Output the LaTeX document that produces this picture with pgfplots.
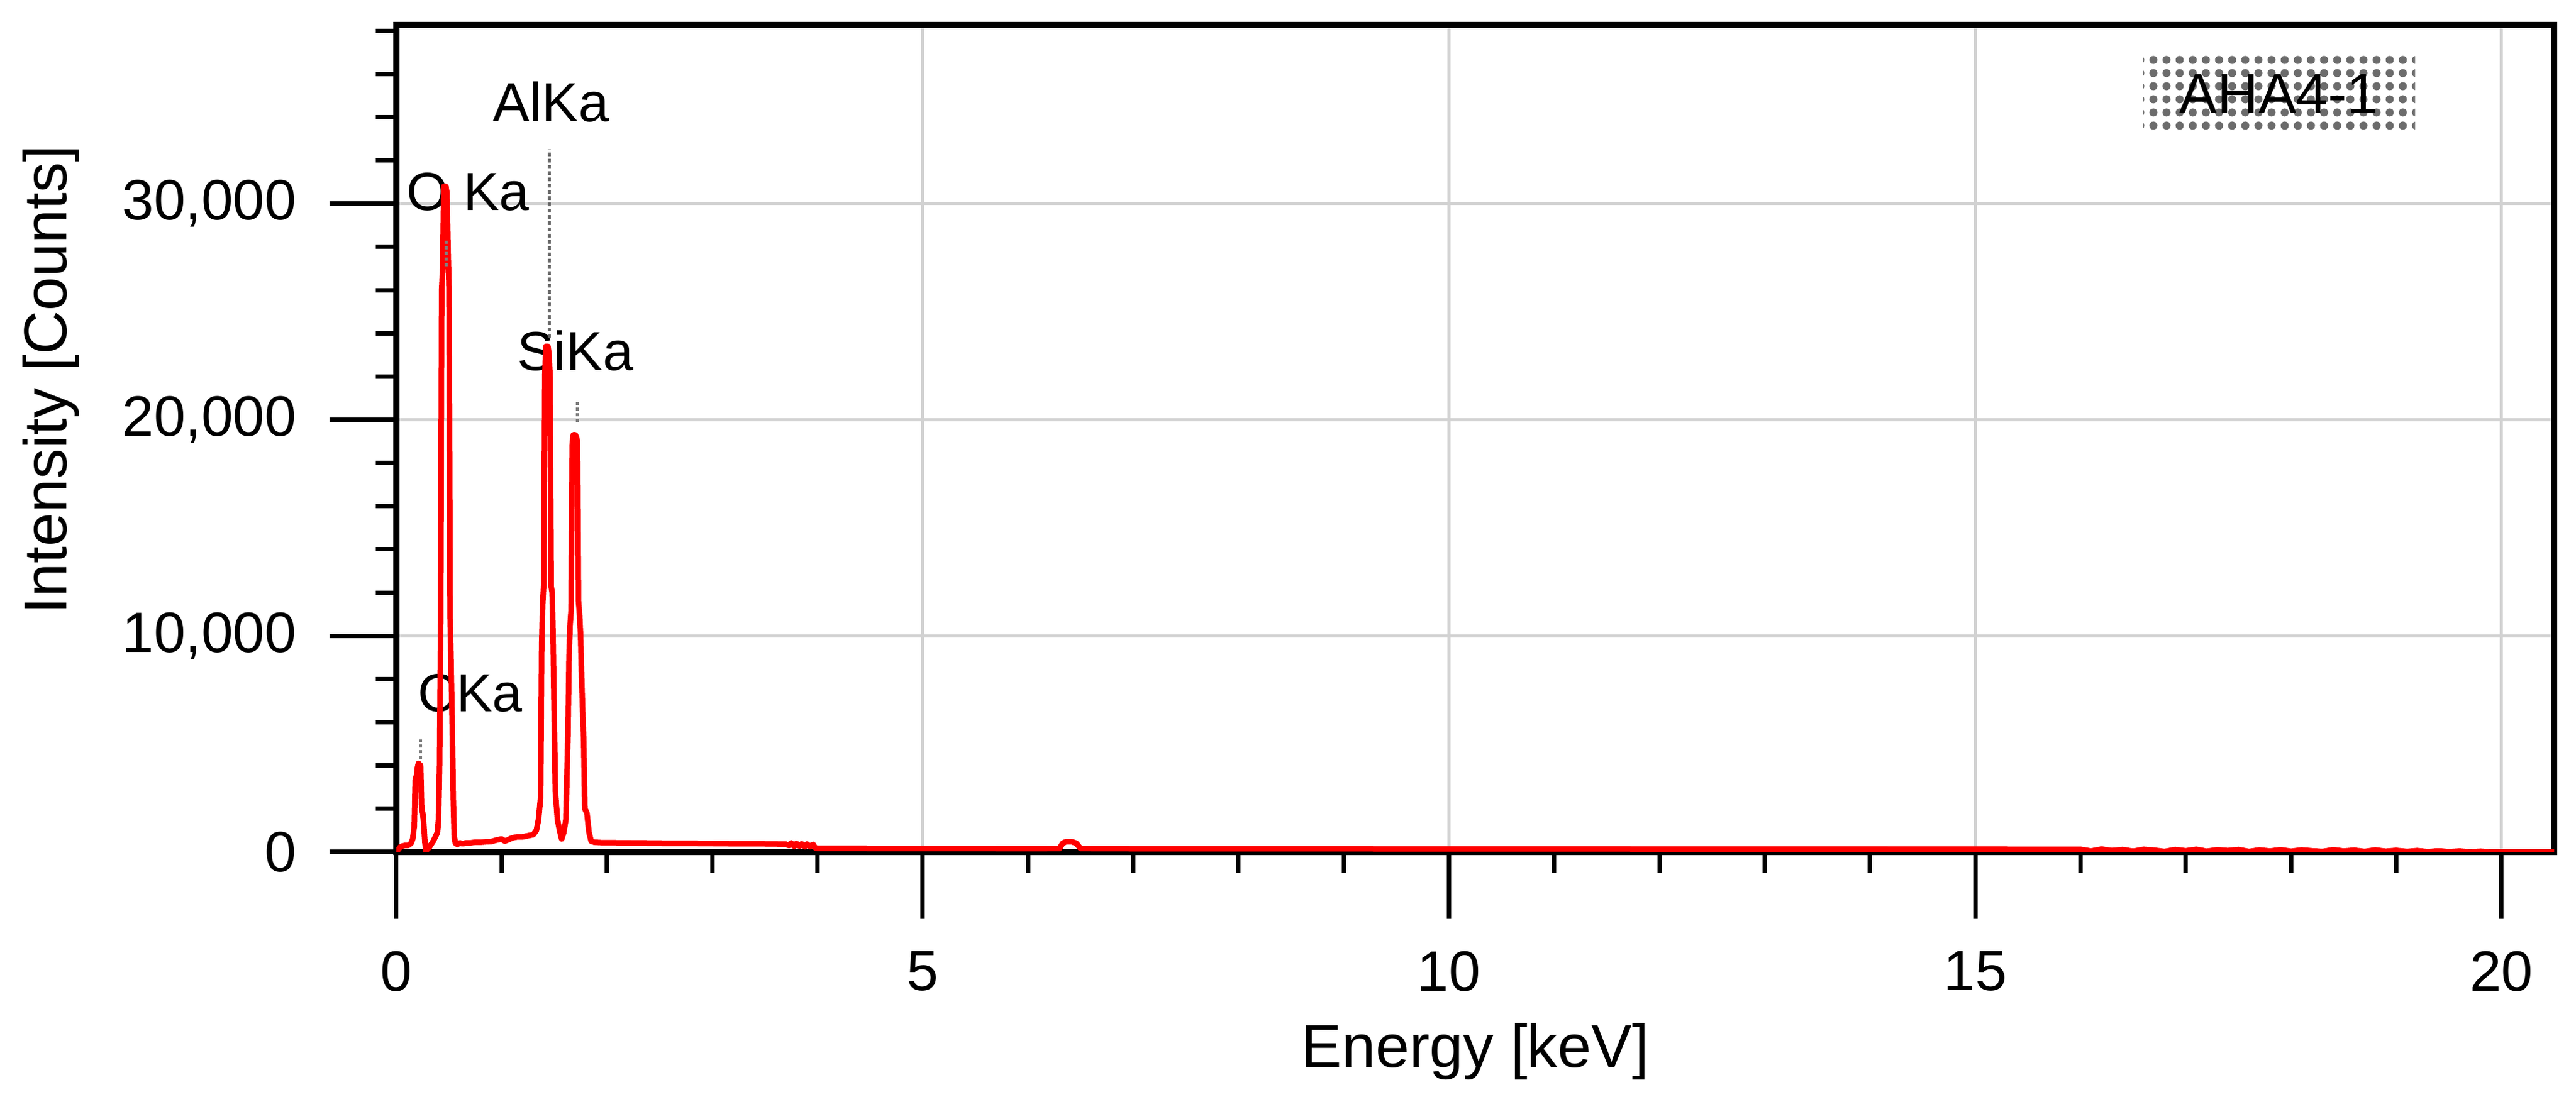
\documentclass[border=0pt]{standalone}
\usepackage{fontspec}
\setmainfont{Liberation Sans}
\usepackage{pgfplots}
\pgfplotsset{compat=1.18}
\usetikzlibrary{patterns.meta}

\pgfplotstableread{
x y
0.00 0
0.04 250
0.08 300
0.11 300
0.14 400
0.155 600
0.17 1200
0.18 3400
0.19 3500
0.20 3900
0.21 4100
0.22 4050
0.23 4000
0.24 2000
0.25 1800
0.26 1300
0.27 500
0.28 50
0.29 100
0.31 200
0.33 350
0.35 500
0.37 700
0.39 900
0.40 1500
0.41 4000
0.42 10000
0.43 26000
0.44 27000
0.45 30800
0.46 30800
0.47 30800
0.48 30500
0.49 28000
0.50 26000
0.51 11000
0.52 8500
0.53 6000
0.54 2500
0.55 700
0.56 400
0.58 350
0.60 420
0.63 380
0.66 420
0.70 420
0.75 450
0.80 450
0.85 470
0.90 480
0.95 550
1.00 600
1.03 500
1.06 560
1.10 650
1.15 700
1.20 700
1.25 750
1.30 800
1.33 1000
1.35 1500
1.37 2500
1.38 9500
1.39 11500
1.40 12400
1.41 22000
1.42 23400
1.43 23400
1.44 23400
1.45 23000
1.46 22000
1.47 12300
1.48 12000
1.49 9500
1.50 6000
1.51 2800
1.53 1500
1.55 1000
1.57 600
1.59 900
1.61 1500
1.62 3500
1.63 5500
1.64 9000
1.65 10500
1.66 11200
1.67 18800
1.68 19300
1.69 19300
1.70 19300
1.71 19200
1.72 19000
1.73 11600
1.74 11000
1.75 10000
1.76 8000
1.78 5000
1.79 2000
1.81 1800
1.83 900
1.85 500
1.88 450
1.95 430
2.00 430
2.20 420
2.40 410
2.60 400
2.80 400
3.00 390
3.20 380
3.40 380
3.60 370
3.70 360
3.73 300
3.75 420
3.78 250
3.80 400
3.83 260
3.85 380
3.88 240
3.90 370
3.93 250
3.96 350
3.98 180
4.00 170
4.50 165
5.00 160
5.50 160
6.00 155
6.30 160
6.33 400
6.36 470
6.42 470
6.46 400
6.50 160
7.00 150
8.00 150
9.00 145
10.00 140
11.00 140
12.00 135
13.00 130
14.00 130
15.00 125
15.50 120
16.00 120
16.10 40
16.20 130
16.30 60
16.40 110
16.50 30
16.60 120
16.70 80
16.80 20
16.90 110
17.00 50
17.10 120
17.20 30
17.30 100
17.40 60
17.50 110
17.60 20
17.70 90
17.80 40
17.90 100
18.00 30
18.10 90
18.20 50
18.30 20
18.40 100
18.50 40
18.60 80
18.70 20
18.80 90
18.90 30
19.00 70
19.10 20
19.20 60
19.30 10
19.40 50
19.50 10
19.60 40
19.70 0
19.80 30
19.90 0
20.50 0
}\spectrum

\begin{document}
\begin{tikzpicture}
\begin{axis}[
  scale only axis, width=345.1pt, height=132.3pt,
  xmin=0, xmax=20.5, ymin=0, ymax=38270,
  xtick={0,5,10,15,20},
  minor xtick={1,2,3,4,6,7,8,9,11,12,13,14,16,17,18,19},
  ytick={0,10000,20000,30000},
  minor ytick={2000,4000,6000,8000,12000,14000,16000,18000,22000,24000,26000,28000,32000,34000,36000,38000},
  tick align=outside, xtick pos=bottom, ytick pos=left,
  major tick length=10.7pt, minor tick length=3.3pt,
  every tick/.style={black, line width=0.7pt},
  axis line style={line width=1pt},
  grid=major, major grid style={gray!35, line width=0.5pt},
  scaled y ticks=false,
  /pgf/number format/.cd, 1000 sep={,}, assume math mode=true, /pgfplots/.cd,
  ticklabel style={font=\fontsize{9.1}{10}\selectfont, inner sep=0pt},
  xticklabel shift=5pt, yticklabel shift=5.1pt,
  xlabel={Energy [keV]}, ylabel={Intensity [Counts]},
  label style={font=\fontsize{9.7}{11}\selectfont, inner sep=0pt},
  xlabel style={at={(axis description cs:0.5,0)}, anchor=base, yshift=-34.5pt},
  ylabel style={at={(axis description cs:-0.1600,0.571)}, anchor=center},
]
\coordinate (bl) at (rel axis cs:0,0);
\coordinate (tr) at (rel axis cs:1,1);
\node[anchor=base, font=\fontsize{8.6}{10}\selectfont, inner sep=0pt] at (axis cs:0.68,29700) {O Ka};
\node[anchor=base, font=\fontsize{8.8}{10}\selectfont, inner sep=0pt] at (axis cs:1.47,33800) {AlKa};
\node[anchor=base, font=\fontsize{8.8}{10}\selectfont, inner sep=0pt] at (axis cs:1.70,22300) {SiKa};
\node[anchor=base, font=\fontsize{8.6}{10}\selectfont, inner sep=0pt] at (axis cs:0.70,6500) {CKa};
\node[pattern={Dots[distance=2.1pt, radius=0.65pt]}, pattern color=gray!85!black, minimum width=43.5pt, minimum height=12pt, inner sep=0pt, font=\fontsize{9.1}{10}\selectfont] at (rel axis cs:0.8725,0.9169) {AHA4-1};
\addplot[gray!80!black, line width=0.5pt, dash pattern=on 0.6pt off 0.4pt] coordinates {(1.455,23800) (1.455,32500)};
\addplot[red, line width=0.9pt, line join=round] table {\spectrum};
\addplot[gray, line width=0.5pt, dash pattern=on 0.5pt off 0.4pt] coordinates {(0.23,4300) (0.23,5200)};
\addplot[gray, line width=0.5pt, dash pattern=on 0.5pt off 0.4pt] coordinates {(0.475,27100) (0.475,28400)};
\addplot[gray, line width=0.5pt, dash pattern=on 0.5pt off 0.4pt] coordinates {(1.72,19900) (1.72,20900)};
\end{axis}
\pgfresetboundingbox
\path ([shift={(-63.4pt,-39.2pt)}]bl) rectangle ([shift={(3.5pt,4pt)}]tr);
\end{tikzpicture}
\end{document}
